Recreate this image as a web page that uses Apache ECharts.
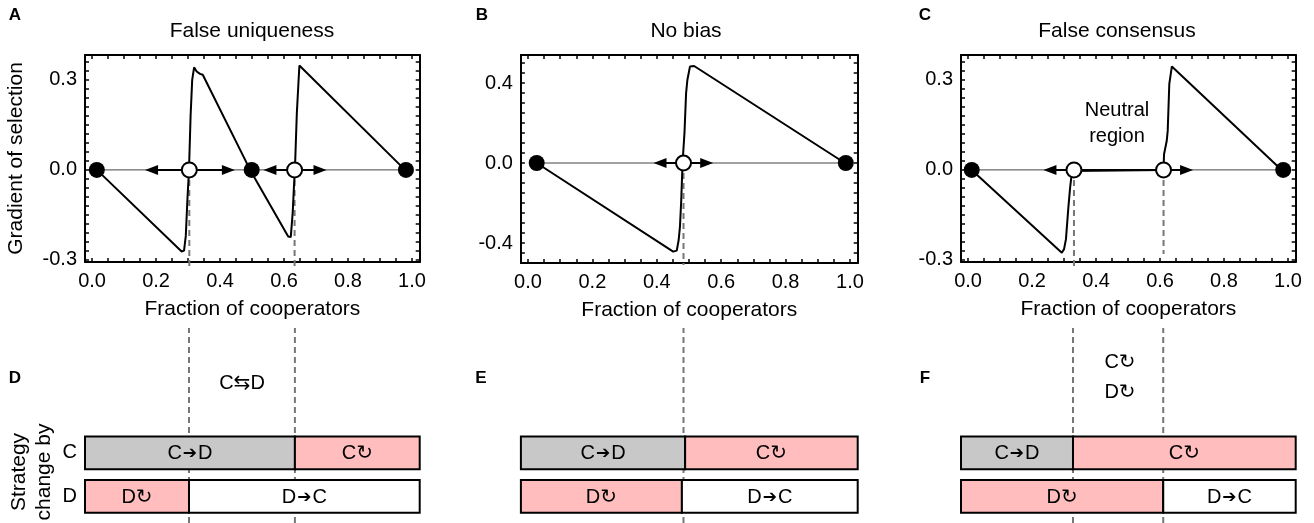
<!DOCTYPE html>
<html>
<head>
<meta charset="utf-8">
<script src="https://cdn.jsdelivr.net/npm/echarts@6/dist/echarts.min.js"></script>
<style>
  html, body { margin: 0; padding: 0; background: #fff; }
  #chart { width: 1314px; height: 523px; }
</style>
</head>
<body>
<div id="chart"></div>
<script>
const FONT = "'Liberation Sans', 'DejaVu Sans', sans-serif"
const PINK = '#ffbdbd'
const GRAY = '#c8c8c8'

// x axis (fraction of cooperators)
const X_MIN = -0.022
const X_MAX = 1.024
const xTickVals = [0, 0.05, 0.1, 0.15, 0.2, 0.25, 0.3, 0.35, 0.4, 0.45, 0.5, 0.55, 0.6, 0.65, 0.7, 0.75, 0.8, 0.85, 0.9, 0.95, 1.0]
const xLabelVals = [0, 0.2, 0.4, 0.6, 0.8, 1.0]

// y axis (gradient of selection)
const yTickValsAC = [-0.3, -0.27, -0.24, -0.21, -0.18, -0.15, -0.12, -0.09, -0.06, -0.03, 0, 0.03, 0.06, 0.09, 0.12, 0.15, 0.18, 0.21, 0.24, 0.27, 0.3, 0.33, 0.36]
const yLabelValsAC = [-0.3, 0, 0.3]
const yTickValsB = [-0.5, -0.45, -0.4, -0.35, -0.3, -0.25, -0.2, -0.15, -0.1, -0.05, 0, 0.05, 0.1, 0.15, 0.2, 0.25, 0.3, 0.35, 0.4, 0.45, 0.5]
const yLabelValsB = [-0.4, 0, 0.4]

const titles = ['False uniqueness', 'No bias', 'False consensus']
const rowCats = ['D', 'C']

// gradient curves [fraction, gradient]
const curveA = [[0.015, 0], [0.28, -0.272], [0.2875, -0.269], [0.293, -0.22], [0.298, -0.1], [0.303, 0], [0.308, 0.18], [0.313, 0.3], [0.319, 0.342], [0.327, 0.328], [0.3375, 0.32], [0.346, 0.317], [0.494, 0], [0.613, -0.222], [0.621, -0.224], [0.627, -0.144], [0.631, -0.056], [0.634, 0], [0.64, 0.189], [0.645, 0.289], [0.648, 0.348], [0.978, 0]]
const curveB = [[0.027, 0], [0.451, -0.443], [0.462, -0.438], [0.468, -0.385], [0.472, -0.318], [0.476, -0.185], [0.48, 0], [0.486, 0.15], [0.491, 0.348], [0.495, 0.415], [0.503, 0.482], [0.516, 0.485], [0.984, 0]]
const curveC = [[0.0115, 0], [0.293, -0.276], [0.3, -0.264], [0.306, -0.231], [0.3135, -0.126], [0.319, -0.059], [0.325, -0.004], [0.611, 0], [0.6125, 0.052], [0.621, 0.097], [0.624, 0.13], [0.629, 0.287], [0.637, 0.345], [0.98, 0]]

// fixed points
const stableA = [0.015, 0.499, 0.981]
const unstableA = [0.304, 0.633]
const stableB = [0.027, 0.987]
const unstableB = [0.483]
const stableC = [0.0115, 0.985]
const unstableC = [0.331, 0.611]

// direction of selection
const arrowsLeftA = [0.186, 0.556]
const arrowsRightA = [0.426, 0.7125]
const arrowsLeftB = [0.41]
const arrowsRightB = [0.555]
const arrowsLeftC = [0.256]
const arrowsRightC = [0.683]
const flowA = [[0.186, 0.426], [0.556, 0.7125]]
const flowB = [[0.41, 0.555]]
const flowC = [[0.256, 0.683]]

// where the guide lines under unstable points stop
const dashEndA = [-0.327, -0.327]
const dashEndB = [-0.51]
const dashEndC = [-0.327, -0.28]

// guide lines in the lower panels
const guideA = [0.303, 0.634]
const guideB = [0.483]
const guideC = [0.328, 0.61]

// strategy change bars: [row, from, to, label]
const barsA = [['C', X_MIN, 0.634, 'C→D'], ['C', 0.634, X_MAX, 'C↻'], ['D', X_MIN, 0.303, 'D↻'], ['D', 0.303, X_MAX, 'D→C']]
const barsB = [['C', X_MIN, 0.488, 'C→D'], ['C', 0.488, X_MAX, 'C↻'], ['D', X_MIN, 0.478, 'D↻'], ['D', 0.478, X_MAX, 'D→C']]
const barsC = [['C', X_MIN, 0.328, 'C→D'], ['C', 0.328, X_MAX, 'C↻'], ['D', X_MIN, 0.61, 'D↻'], ['D', 0.61, X_MAX, 'D→C']]

const panels = [
    { left: 85, width: 334.7, top: 55, height: 207, yMin: -0.307, yMax: 0.383, yTicks: yTickValsAC, yLabels: yLabelValsAC,
      curve: curveA, stable: stableA, unstable: unstableA, left_: arrowsLeftA, right_: arrowsRightA, flow: flowA, dashEnd: dashEndA, guide: guideA, bars: barsA },
    { left: 520.9, width: 336.8, top: 55, height: 208, yMin: -0.5, yMax: 0.54, yTicks: yTickValsB, yLabels: yLabelValsB,
      curve: curveB, stable: stableB, unstable: unstableB, left_: arrowsLeftB, right_: arrowsRightB, flow: flowB, dashEnd: dashEndB, guide: guideB, bars: barsB },
    { left: 961, width: 334.7, top: 55, height: 207, yMin: -0.307, yMax: 0.383, yTicks: yTickValsAC, yLabels: yLabelValsAC,
      curve: curveC, stable: stableC, unstable: unstableC, left_: arrowsLeftC, right_: arrowsRightC, flow: flowC, dashEnd: dashEndC, guide: guideC, bars: barsC }
]

const textStyle = { color: '#000', fontSize: 20, fontFamily: FONT }
const nameStyle = { color: '#000', fontSize: 21, fontFamily: FONT }
const frameLine = { onZero: false, lineStyle: { color: '#000', width: 2 } }

const grid = []
const xAxis = []
const yAxis = []
const series = []

// top plots: grids 0..2, two x and two y axes each (frame with ticks on every side)
panels.forEach((p, i) => {
    grid.push({ left: p.left, top: p.top, width: p.width, height: p.height })
    ;['bottom', 'top'].forEach((pos) => {
        xAxis.push({
            gridIndex: i, type: 'value', min: X_MIN, max: X_MAX, position: pos,
            axisLine: frameLine,
            axisTick: { inside: true, length: 4, customValues: xTickVals, lineStyle: { color: '#000', width: 1.5 } },
            axisLabel: { show: pos === 'bottom', customValues: xLabelVals, margin: 9, formatter: (v) => v.toFixed(1), ...textStyle },
            splitLine: { show: false },
            name: pos === 'bottom' ? 'Fraction of cooperators' : '',
            nameLocation: 'middle', nameGap: 37, nameTextStyle: nameStyle
        })
    })
    ;['left', 'right'].forEach((pos) => {
        yAxis.push({
            gridIndex: i, type: 'value', min: p.yMin, max: p.yMax, position: pos,
            axisLine: frameLine,
            axisTick: { inside: true, length: 4, customValues: p.yTicks, lineStyle: { color: '#000', width: 1.5 } },
            axisLabel: { show: pos === 'left', customValues: p.yLabels, margin: 8, formatter: (v) => v.toFixed(1), ...textStyle },
            splitLine: { show: false },
            name: pos === 'left' && i === 0 ? 'Gradient of selection' : '',
            nameLocation: 'middle', nameGap: 58, nameTextStyle: nameStyle
        })
    })
})

// guide grids: 3..5, bar grids: 6..8
panels.forEach((p) => {
    grid.push({ left: p.left, width: p.width, top: 328, bottom: 0 })
})
panels.forEach((p) => {
    grid.push({ left: p.left, width: p.width, top: 431.3, height: 86.7 })
})
panels.forEach((p, i) => {
    xAxis.push({ gridIndex: 3 + i, type: 'value', min: X_MIN, max: X_MAX, show: false })
    yAxis.push({ gridIndex: 3 + i, type: 'value', min: 0, max: 1, show: false })
})
panels.forEach((p, i) => {
    xAxis.push({ gridIndex: 6 + i, type: 'value', min: X_MIN, max: X_MAX, show: false })
    yAxis.push({
        gridIndex: 6 + i, type: 'category', data: rowCats,
        axisLine: { show: false }, axisTick: { show: false }, splitLine: { show: false },
        axisLabel: { show: i === 0, margin: 8, ...textStyle }
    })
})

const labelRich = {
    t: { fontSize: 20, fontFamily: FONT, color: '#000' },
    a: { fontSize: 17, fontFamily: 'DejaVu Sans', color: '#000', padding: [0, 1, 0, 1] }
}
function barText(label) {
    if (label.indexOf('→') > 0) {
        const parts = label.split('→')
        return '{t|' + parts[0] + '}{a|➔}{t|' + parts[1] + '}'
    }
    return '{t|' + label + '}'
}

panels.forEach((p, i) => {
    // axes: top grid i uses 2i, guide grid i uses 6+i, bar grid i uses 9+i
    const onTop = { xAxisIndex: 2 * i, yAxisIndex: 2 * i, silent: true, animation: false }
    // zero line between the outer stable points
    series.push({
        ...onTop, type: 'line', symbol: 'none', z: 2,
        data: [[p.stable[0], 0], [p.stable[p.stable.length - 1], 0]],
        lineStyle: { color: '#444', width: 1 }
    })
    p.flow.forEach((f) => {
        series.push({
            ...onTop, type: 'line', symbol: 'none', z: 3,
            data: [[f[0], 0], [f[1], 0]],
            lineStyle: { color: '#000', width: 2 }
        })
    })
    p.unstable.forEach((u, k) => {
        series.push({
            ...onTop, type: 'line', symbol: 'none', z: 3, clip: false,
            data: [[u, 0], [u, p.dashEnd[k]]],
            lineStyle: { color: '#777', width: 2, type: [6, 4] }
        })
    })
    series.push({
        ...onTop, type: 'line', symbol: 'none', z: 4,
        data: p.curve,
        lineStyle: { color: '#000', width: 2 }
    })
    series.push({
        ...onTop, type: 'scatter', symbol: 'triangle', symbolSize: [10, 13], symbolRotate: 90, z: 5,
        data: p.left_.map((x) => [x, 0]), itemStyle: { color: '#000', opacity: 1 }
    })
    series.push({
        ...onTop, type: 'scatter', symbol: 'triangle', symbolSize: [10, 13], symbolRotate: -90, z: 5,
        data: p.right_.map((x) => [x, 0]), itemStyle: { color: '#000', opacity: 1 }
    })
    series.push({
        ...onTop, type: 'scatter', symbol: 'circle', symbolSize: 16, z: 6,
        data: p.stable.map((x) => [x, 0]), itemStyle: { color: '#000', opacity: 1 }
    })
    series.push({
        ...onTop, type: 'scatter', symbol: 'circle', symbolSize: 15, z: 6,
        data: p.unstable.map((x) => [x, 0]), itemStyle: { color: '#fff', borderColor: '#000', borderWidth: 2, opacity: 1 }
    })

    // dashed guides running down through the bar panels
    p.guide.forEach((g) => {
        series.push({
            type: 'line', xAxisIndex: 6 + i, yAxisIndex: 6 + i, silent: true, animation: false,
            symbol: 'none', z: 1, data: [[g, 0], [g, 1]],
            lineStyle: { color: '#777', width: 2, type: [6, 4] }
        })
    })

    const bars = p.bars
    series.push({
        type: 'custom', xAxisIndex: 9 + i, yAxisIndex: 9 + i, silent: true, animation: false, z: 3,
        encode: { x: [1, 2], y: 0 },
        data: bars.map((b) => [b[0], b[1], b[2]]),
        renderItem: (params, api) => {
            const b = bars[params.dataIndex]
            const row = api.value(0)
            const a = api.coord([api.value(1), row])
            const c = api.coord([api.value(2), row])
            const h = api.size([0, 1])[1] * 0.755
            const fill = b[3].indexOf('↻') >= 0 ? PINK : (b[0] === 'C' ? GRAY : '#fff')
            return {
                type: 'group',
                children: [
                    { type: 'rect', shape: { x: a[0], y: a[1] - h / 2, width: c[0] - a[0], height: h },
                      style: { fill: fill, stroke: '#000', lineWidth: 2 } },
                    { type: 'text', x: (a[0] + c[0]) / 2, y: a[1] + 1,
                      style: { text: barText(b[3]), rich: labelRich, align: 'center', verticalAlign: 'middle' } }
                ]
            }
        }
    })
})

function txt(x, y, text, extra) {
    return { type: 'text', x: x, y: y, silent: true,
        style: Object.assign({ text: text, font: '21px ' + FONT, fill: '#000', align: 'center', verticalAlign: 'middle' }, extra || {}) }
}
const letterFont = { font: 'bold 17px ' + FONT }
const graphic = [
    txt(15, 15, 'A', letterFont), txt(482, 15, 'B', letterFont), txt(925, 15, 'C', letterFont),
    txt(15, 378, 'D', letterFont), txt(481, 378, 'E', letterFont), txt(925, 378, 'F', letterFont),
    txt(252, 31, titles[0]), txt(686, 31, titles[1]), txt(1117, 31, titles[2]),
    txt(1117, 123, 'Neutral\nregion', { lineHeight: 26, font: '20px ' + FONT }),
    txt(242, 383, 'C⇆D', { font: '20px ' + FONT }),
    txt(1120, 362, 'C↻', { font: '20px ' + FONT }),
    txt(1120, 392, 'D↻', { font: '20px ' + FONT }),
    Object.assign(txt(32, 472, 'Strategy\nchange by', { lineHeight: 25 }), { rotation: Math.PI / 2 })
]

const chart = echarts.init(document.getElementById('chart'), null, { renderer: 'canvas' })
chart.setOption({
    animation: false,
    backgroundColor: '#fff',
    grid: grid,
    xAxis: xAxis,
    yAxis: yAxis,
    series: series,
    graphic: graphic
})
</script>
</body>
</html>
